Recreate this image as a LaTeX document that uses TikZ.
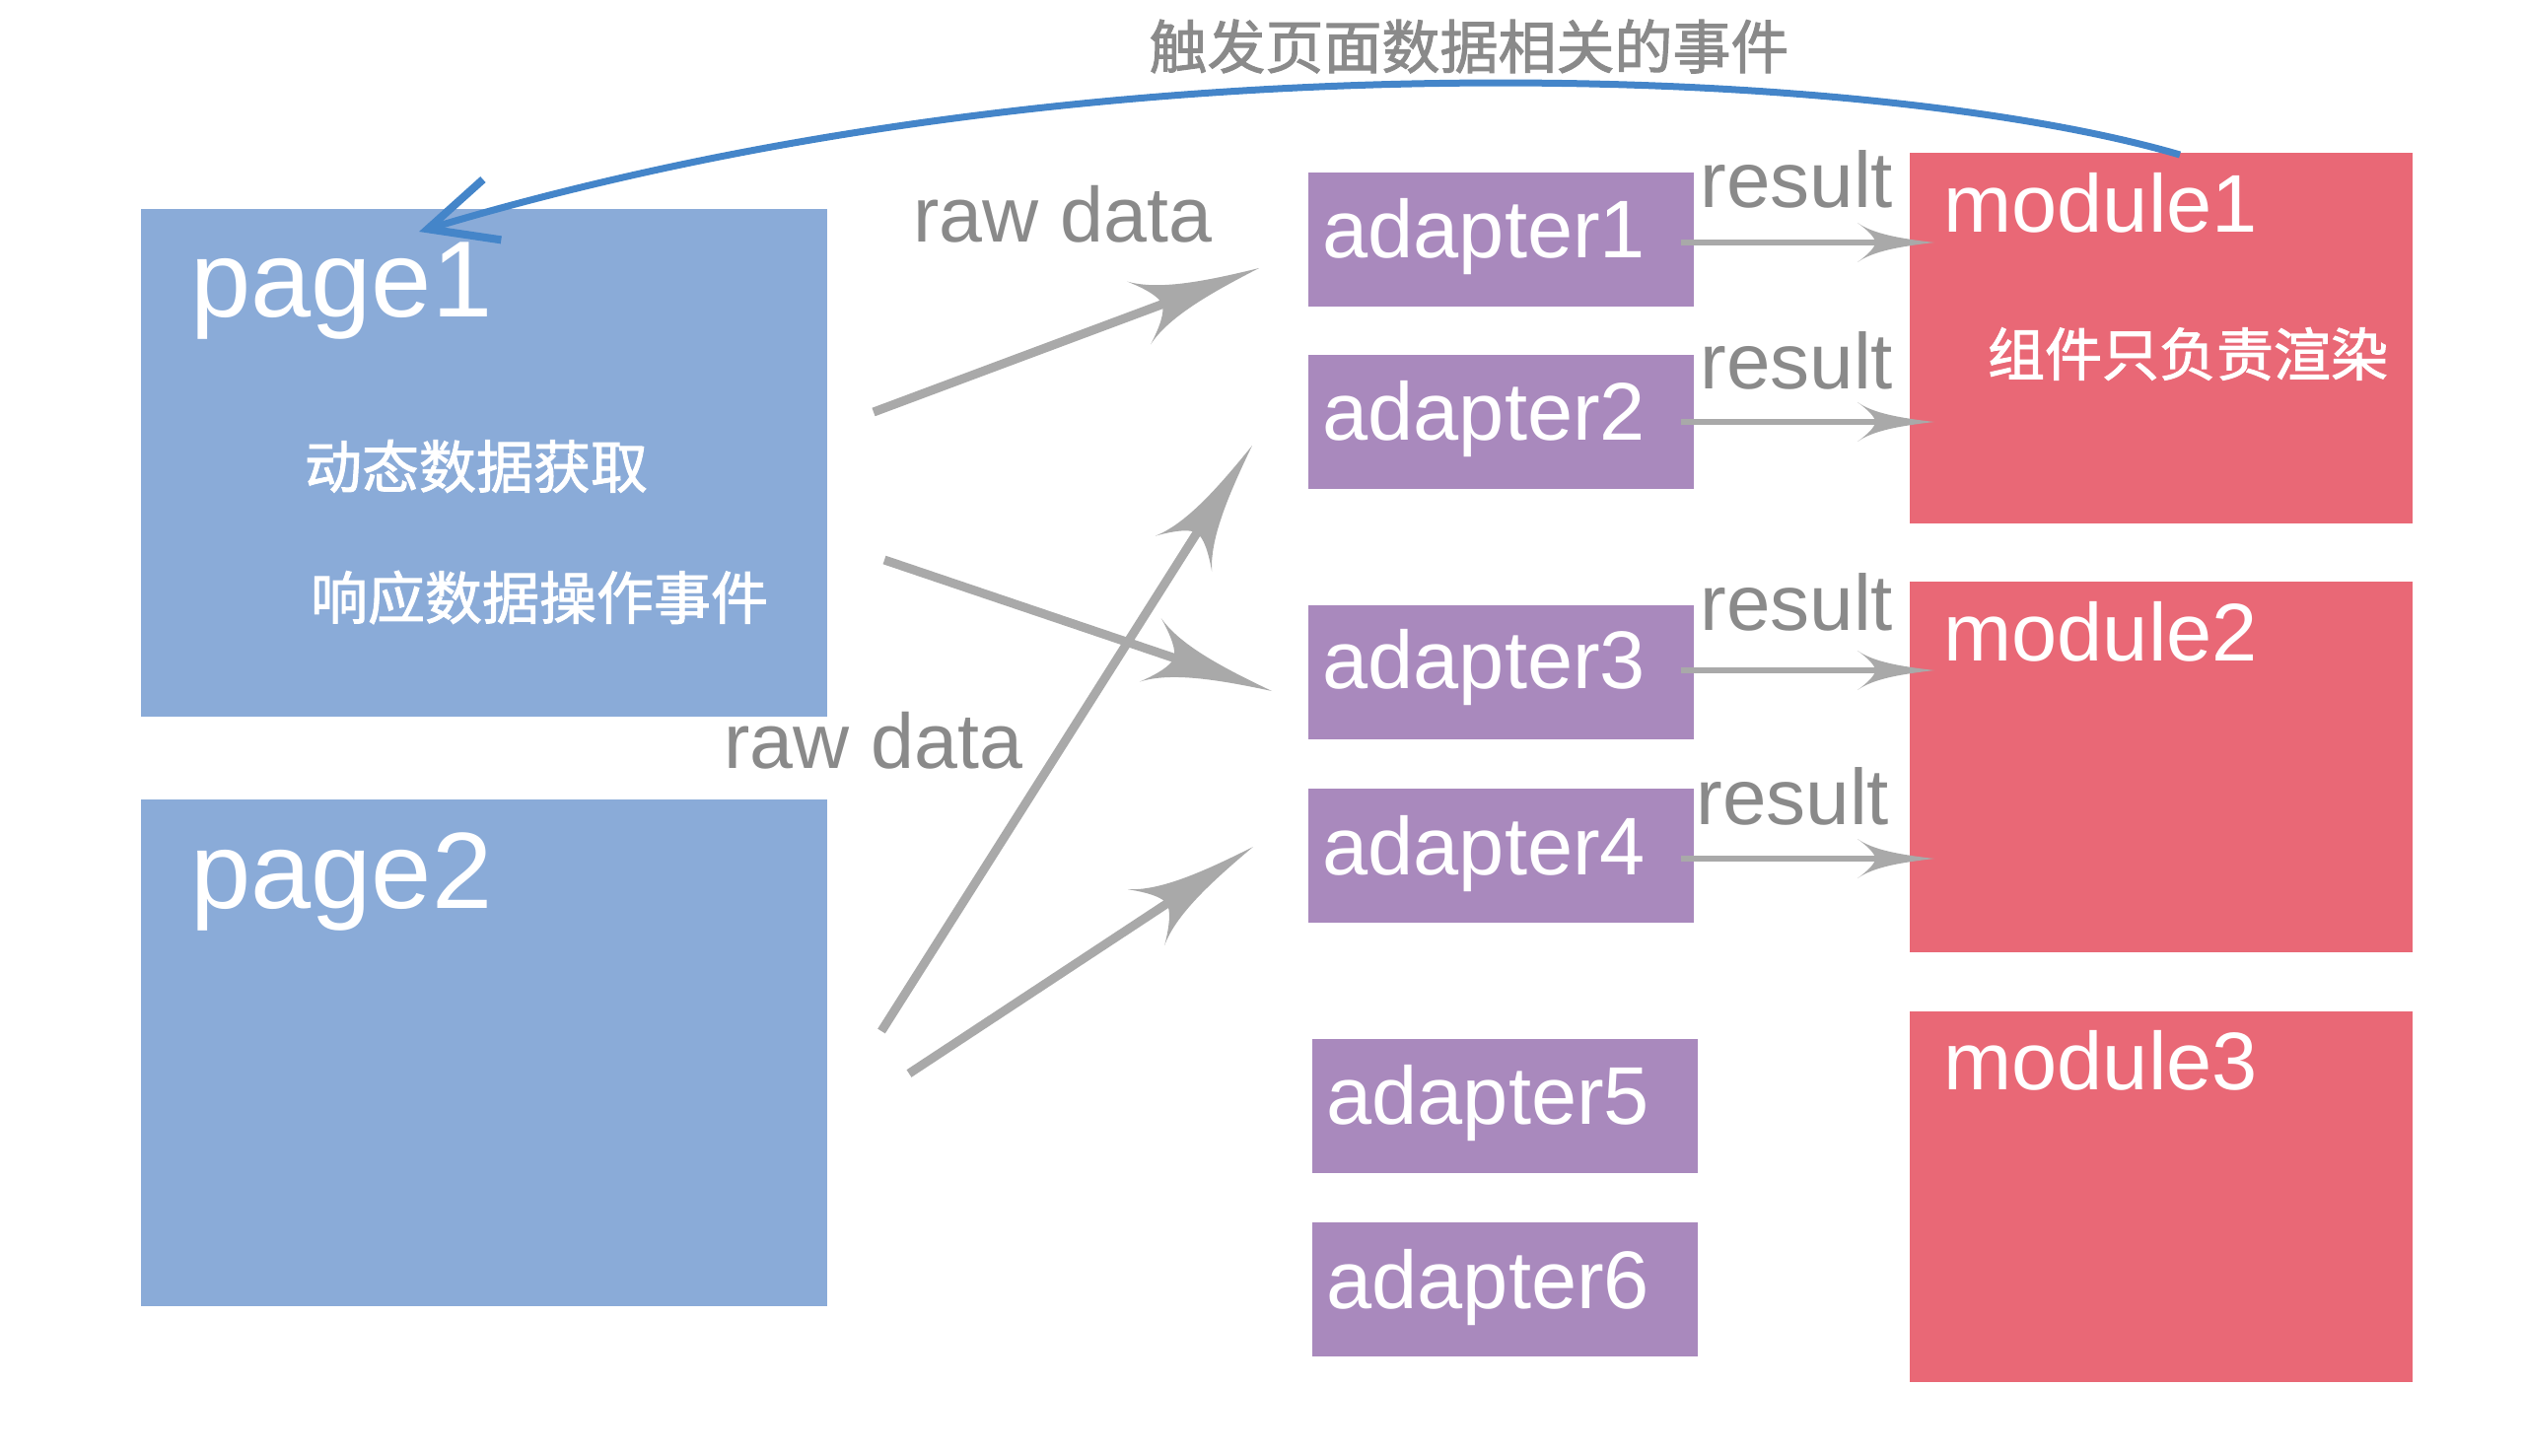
\documentclass[tikz,border=0pt]{standalone}
\usepackage{fontspec}
\setmainfont{Liberation Sans}
\newfontfamily\cjk{Noto Sans CJK SC}[FakeBold=1.6]
\usetikzlibrary{arrows.meta,calc}
\definecolor{pageblue}{HTML}{8AABD8}
\definecolor{adpurple}{HTML}{A989BD}
\definecolor{modred}{HTML}{E96876}
\definecolor{flowgray}{HTML}{A9A9A9}
\definecolor{labelgray}{HTML}{8A8A8A}
\definecolor{eventblue}{HTML}{4485C9}
\newdimen\curvytmp
\pgfdeclarearrow{
  name = Curvy,
  parameters = {\the\pgfarrowlength,\the\pgfarrowwidth,\the\pgfarrowinset},
  setup code = {
    \pgfarrowssettipend{0pt}
    \pgfarrowssetbackend{-\pgfarrowlength}
    \curvytmp=-0.5\pgfarrowlength
    \pgfarrowssetlineend{\curvytmp}
    \pgfarrowssavethe\pgfarrowlength
    \pgfarrowssavethe\pgfarrowwidth
    \pgfarrowssavethe\pgfarrowinset
  },
  drawing code = {
    \pgfpathmoveto{\pgfpoint{0pt}{0pt}}
    \pgfpathcurveto{\pgfpoint{-0.45\pgfarrowlength}{0.1\pgfarrowwidth}}{\pgfpoint{-0.8\pgfarrowlength}{0.22\pgfarrowwidth}}{\pgfpoint{-\pgfarrowlength}{0.5\pgfarrowwidth}}
    \pgfpathcurveto{\pgfpoint{-\pgfarrowlength+0.6\pgfarrowinset}{0.3\pgfarrowwidth}}{\pgfpoint{-\pgfarrowlength+\pgfarrowinset}{0.12\pgfarrowwidth}}{\pgfpoint{-\pgfarrowlength+\pgfarrowinset}{0pt}}
    \pgfpathcurveto{\pgfpoint{-\pgfarrowlength+\pgfarrowinset}{-0.12\pgfarrowwidth}}{\pgfpoint{-\pgfarrowlength+0.6\pgfarrowinset}{-0.3\pgfarrowwidth}}{\pgfpoint{-\pgfarrowlength}{-0.5\pgfarrowwidth}}
    \pgfpathcurveto{\pgfpoint{-0.8\pgfarrowlength}{-0.22\pgfarrowwidth}}{\pgfpoint{-0.45\pgfarrowlength}{-0.1\pgfarrowwidth}}{\pgfpoint{0pt}{0pt}}
    \pgfpathclose
    \pgfusepathqfill
  },
  defaults = {length = 10pt, width = 8pt, inset = 3pt}
}
\tikzset{
  pagebox/.style={fill=pageblue, draw=none, inner sep=0pt, outer sep=0pt, anchor=north west, minimum width=348pt},
  adbox/.style={fill=adpurple, draw=none, inner sep=0pt, outer sep=0pt, anchor=north west, minimum width=195.5pt, minimum height=68pt},
  modbox/.style={fill=modred, draw=none, inner sep=0pt, outer sep=0pt, anchor=north west, minimum width=255pt, minimum height=188pt},
  pagelabel/.style={text=white, inner sep=0pt, anchor=base west, font=\fontsize{55}{60}\selectfont},
  boxlabel/.style={text=white, inner sep=0pt, anchor=base west, font=\fontsize{41.5}{46}\selectfont},
  cjklabel/.style={text=white, inner sep=0pt, anchor=center, font=\cjk\fontsize{29}{34}\selectfont},
  graylabel/.style={text=labelgray, inner sep=0pt, anchor=base west, font=\fontsize{40}{44}\selectfont},
  rawflow/.style={draw=flowgray, line width=4.5pt, -{Curvy[length=65pt,width=34pt,inset=12.5pt]}},
  resflow/.style={draw=flowgray, line width=3pt, -{Curvy[length=39pt,width=20pt,inset=9pt]}},
  eventflow/.style={draw=eventblue, line width=3.5pt, -{Straight Barb[length=34pt,width=32pt,line width=4pt]}}
}
\begin{document}
\begin{tikzpicture}[x=0.5pt,y=-0.5pt]
\useasboundingbox (0,0) rectangle (2560,1477);
% pages
\node[pagebox, minimum height=257.5pt] (page1) at (143,212) {};
\node[pagebox, minimum height=257pt] (page2) at (143,811) {};
\node[pagelabel] (page1lbl) at (193,321) {page1};
\node[pagelabel] (page2lbl) at (193,921) {page2};
\node[cjklabel] (page1t1) at (483,473) {动态数据获取};
\node[cjklabel] (page1t2) at (547,606) {响应数据操作事件};
% adapters
\node[adbox] (ad1) at (1327,175) {};
\node[adbox] (ad2) at (1327,360) {};
\node[adbox] (ad3) at (1327,614) {};
\node[adbox] (ad4) at (1327,800) {};
\node[adbox] (ad5) at (1331,1054) {};
\node[adbox] (ad6) at (1331,1240) {};
\node[boxlabel] (ad1lbl) at (1341,261) {adapter1};
\node[boxlabel] (ad2lbl) at (1341,446) {adapter2};
\node[boxlabel] (ad3lbl) at (1341,698) {adapter3};
\node[boxlabel] (ad4lbl) at (1341,887) {adapter4};
\node[boxlabel] (ad5lbl) at (1345,1140) {adapter5};
\node[boxlabel] (ad6lbl) at (1345,1327) {adapter6};
% modules
\node[modbox] (mod1) at (1937,155) {};
\node[modbox] (mod2) at (1937,590) {};
\node[modbox] (mod3) at (1937,1026) {};
\node[boxlabel] (mod1lbl) at (1971,235) {module1};
\node[boxlabel] (mod2lbl) at (1971,670) {module2};
\node[boxlabel] (mod3lbl) at (1971,1105) {module3};
\node[cjklabel] (mod1t) at (2219,359) {组件只负责渲染};
% labels
\node[graylabel, font=\fontsize{39.5}{44}\selectfont] (rawtop) at (926,245) {raw data};
\node[graylabel, font=\fontsize{39.5}{44}\selectfont] (rawbot) at (734,779) {raw data};
\node[graylabel] (res1) at (1724,210) {result};
\node[graylabel] (res2) at (1724,394) {result};
\node[graylabel] (res3) at (1724,639) {result};
\node[graylabel] (res4) at (1720,836) {result};
\node[text=labelgray, inner sep=0pt, font=\cjk\fontsize{29.5}{34}\selectfont] (title) at (1490,47) {触发页面数据相关的事件};
% raw data arrows
\coordinate (r1s) at (886,418);  \coordinate (r1e) at (1277,272);
\coordinate (r2s) at (897,568);  \coordinate (r2e) at (1290,701);
\coordinate (r3s) at (894,1046); \coordinate (r3e) at (1270,452);
\coordinate (r4s) at (922,1089); \coordinate (r4e) at (1271,859);
\draw[rawflow] (r1s) -- (r1e);
\draw[rawflow] (r2s) -- (r2e);
\draw[rawflow] (r3s) -- (r3e);
\draw[rawflow] (r4s) -- (r4e);
% result arrows
\coordinate (q1s) at (1705,246); \coordinate (q1e) at (1962,246);
\coordinate (q2s) at (1705,428); \coordinate (q2e) at (1962,428);
\coordinate (q3s) at (1705,680); \coordinate (q3e) at (1962,680);
\coordinate (q4s) at (1705,871); \coordinate (q4e) at (1962,871);
\draw[resflow] (q1s) -- (q1e);
\draw[resflow] (q2s) -- (q2e);
\draw[resflow] (q3s) -- (q3e);
\draw[resflow] (q4s) -- (q4e);
% event arrow
\coordinate (evs) at (2211,157);
\coordinate (eve) at (425,235);
\draw[eventflow] (evs) .. controls (1900,66) and (1107,30) .. (eve);
\end{tikzpicture}
\end{document}
